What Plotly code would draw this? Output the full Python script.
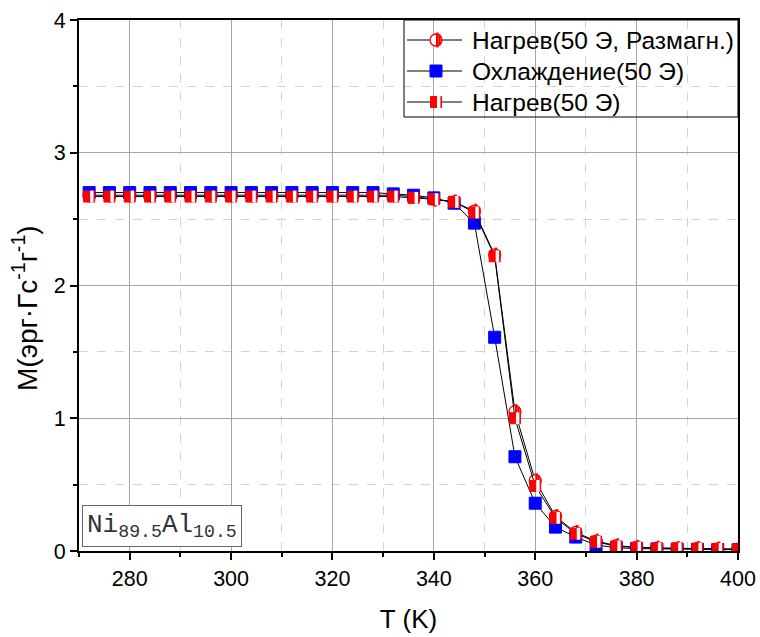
import plotly.graph_objects as go

# Temperature points (K), measured every 4 K
T = [272, 276, 280, 284, 288, 292, 296, 300, 304, 308, 312, 316, 320, 324, 328,
     332, 336, 340, 344, 348, 352, 356, 360, 364, 368, 372, 376, 380, 384, 388,
     392, 396, 400]

# Magnetization, erg/(Oe*g)
m_cool = [2.70] * 15 + [2.69, 2.68, 2.66, 2.62, 2.47, 1.61, 0.71, 0.36, 0.18,
                        0.105, 0.045, 0.025, 0.018, 0.015, 0.013, 0.012, 0.011, 0.010]
m_heat = [2.67] * 15 + [2.67, 2.66, 2.65, 2.63, 2.55, 2.22, 1.00, 0.49, 0.25,
                        0.13, 0.07, 0.035, 0.025, 0.020, 0.020, 0.018, 0.015, 0.013]
m_heat_demag = [2.68] * 15 + [2.68, 2.67, 2.65, 2.63, 2.56, 2.23, 1.05, 0.53, 0.26,
                              0.14, 0.075, 0.040, 0.028, 0.022, 0.020, 0.019, 0.016, 0.014]

legend_names = ["Нагрев(50 Э, Размагн.)", "Охлаждение(50 Э)", "Нагрев(50 Э)"]

X_RANGE = [270, 400]
Y_RANGE = [0, 4]
W, H = 760, 637
ML, MR, MT, MB = 79, 22, 20, 86
PW, PH = W - ML - MR, H - MT - MB
K_PER_PX = (X_RANGE[1] - X_RANGE[0]) / PW

RED = "#ff0000"
BLUE = "#0000ff"

fig = go.Figure()


def shifted(xs, px, scale):
    return [x + px * scale for x in xs]


def add_half_circle(xs, ys, scale, xa="x", ya="y", line=True):
    """Circle with its right half filled (outline red, left half white)."""
    fig.add_trace(go.Scatter(
        x=xs, y=ys, xaxis=xa, yaxis=ya, showlegend=False, hoverinfo="skip",
        mode="lines+markers" if line else "markers",
        line=dict(color="black", width=1),
        marker=dict(symbol="circle", size=12, color="white",
                    line=dict(color=RED, width=1.3))))
    for off, w, ln in [(1.3, 2.6, 10.6), (3.5, 1.9, 7.8), (5.0, 1.2, 4.6)]:
        fig.add_trace(go.Scatter(
            x=shifted(xs, off, scale), y=ys, xaxis=xa, yaxis=ya, mode="markers",
            showlegend=False, hoverinfo="skip",
            marker=dict(symbol="line-ns", size=ln, color=RED,
                        line=dict(color=RED, width=w))))


def add_half_square(xs, ys, scale, xa="x", ya="y", line=True):
    """Square with its left part filled red and a white right strip."""
    fig.add_trace(go.Scatter(
        x=xs, y=ys, xaxis=xa, yaxis=ya, showlegend=False, hoverinfo="skip",
        mode="lines+markers" if line else "markers",
        line=dict(color="black", width=1),
        marker=dict(symbol="square", size=11, color=RED,
                    line=dict(color=RED, width=1))))
    fig.add_trace(go.Scatter(
        x=shifted(xs, 2.7, scale), y=ys, xaxis=xa, yaxis=ya, mode="markers",
        showlegend=False, hoverinfo="skip",
        marker=dict(symbol="line-ns", size=8.5, color="white",
                    line=dict(color="white", width=3.4))))


def add_full_square(xs, ys, xa="x", ya="y", line=True):
    fig.add_trace(go.Scatter(
        x=xs, y=ys, xaxis=xa, yaxis=ya, showlegend=False, hoverinfo="skip",
        mode="lines+markers" if line else "markers",
        line=dict(color="black", width=1),
        marker=dict(symbol="square", size=12, color=BLUE,
                    line=dict(color=BLUE, width=1))))


# data series
add_half_circle(T, m_heat_demag, K_PER_PX)
add_full_square(T, m_cool)
add_half_square(T, m_heat, K_PER_PX)

# legend drawn on a pixel-based overlay axis pair
LEG_LINE = [328, 383]
LEG_SYM_X = 357
LEG_ROWS = [511, 480, 449]
LEG_TEXT_X = 391
for row in LEG_ROWS:
    fig.add_trace(go.Scatter(
        x=LEG_LINE, y=[row, row], xaxis="x2", yaxis="y2", mode="lines",
        showlegend=False, hoverinfo="skip",
        line=dict(color="#555555", width=1.5)))
add_half_circle([LEG_SYM_X], [LEG_ROWS[0]], 1, "x2", "y2", line=False)
add_full_square([LEG_SYM_X], [LEG_ROWS[1]], "x2", "y2", line=False)
add_half_square([LEG_SYM_X], [LEG_ROWS[2]], 1, "x2", "y2", line=False)

font_main = "Liberation Sans, Arial"

annotations = []
for name, row in zip(legend_names, LEG_ROWS):
    annotations.append(dict(
        x=LEG_TEXT_X, y=row, xref="x2", yref="y2", text=name, showarrow=False,
        xanchor="left", yanchor="middle",
        font=dict(family=font_main, size=24.5, color="black")))

annotations.append(dict(
    x=3, y=4, xref="x2", yref="y2", xanchor="left", yanchor="bottom",
    text="Ni<sub>89.5</sub>Al<sub>10.5</sub>", showarrow=False,
    font=dict(family="Liberation Mono, Courier New", size=26, color="#333333"),
    bordercolor="#666666", borderwidth=1, borderpad=4, bgcolor="white"))

# y-axis title, placed in paper coordinates left of the plot
annotations.append(dict(
    x=-54 / PW, y=243 / PH, xref="paper", yref="paper",
    xanchor="center", yanchor="middle",
    text="M(эрг·Гс<sup>-1</sup>г<sup>-1</sup>)", showarrow=False, textangle=-90,
    font=dict(family=font_main, size=28, color="black")))

shapes = [dict(type="rect", xref="x2", yref="y2", x0=325, x1=PW, y0=434, y1=PH,
               line=dict(color="black", width=1), fillcolor="rgba(0,0,0,0)")]

fig.update_layout(
    width=W, height=H,
    margin=dict(l=ML, r=MR, t=MT, b=MB, autoexpand=False),
    paper_bgcolor="white", plot_bgcolor="white",
    showlegend=False,
    font=dict(family=font_main, color="black"),
    annotations=annotations,
    shapes=shapes,
    xaxis=dict(
        range=X_RANGE, dtick=20, tick0=0, automargin=False,
        ticks="outside", ticklen=7, tickwidth=2, tickcolor="black",
        showline=True, linewidth=2, linecolor="black", mirror=True,
        showgrid=True, gridcolor="#a6a6a6", gridwidth=1, zeroline=False,
        minor=dict(dtick=10, tick0=0, ticks="outside", ticklen=4, tickwidth=1.5,
                   tickcolor="black", showgrid=True, gridcolor="#d4d4d4",
                   griddash="dash", gridwidth=1),
        tickfont=dict(size=21.5, family=font_main),
        title=dict(text="T (K)", font=dict(size=26, family=font_main), standoff=20),
    ),
    yaxis=dict(
        range=Y_RANGE, dtick=1, tick0=0, automargin=False,
        ticks="outside", ticklen=7, tickwidth=2, tickcolor="black",
        showline=True, linewidth=2, linecolor="black", mirror=True,
        showgrid=True, gridcolor="#a6a6a6", gridwidth=1, zeroline=False,
        minor=dict(dtick=0.5, tick0=0, ticks="outside", ticklen=4, tickwidth=1.5,
                   tickcolor="black", showgrid=True, gridcolor="#d4d4d4",
                   griddash="dash", gridwidth=1),
        tickfont=dict(size=21.5, family=font_main),
    ),
    xaxis2=dict(overlaying="x", anchor="y2", range=[0, PW], visible=False,
                fixedrange=True),
    yaxis2=dict(overlaying="y", anchor="x2", range=[0, PH], visible=False,
                fixedrange=True),
)

fig.write_html("out.html")
